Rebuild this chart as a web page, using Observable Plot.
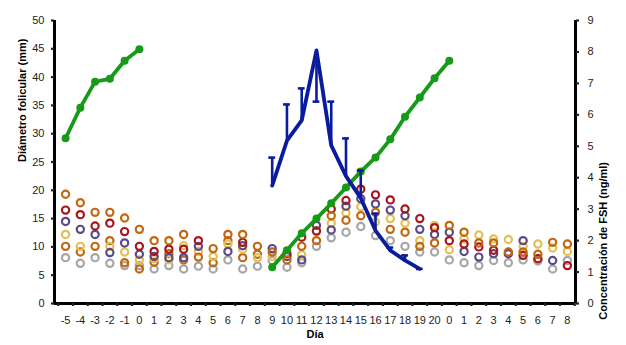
<!DOCTYPE html>
<html><head><meta charset="utf-8">
<script src="https://cdn.jsdelivr.net/npm/d3@7"></script>
<script src="https://cdn.jsdelivr.net/npm/@observablehq/plot@0.6"></script>
<style>
body{margin:0;background:#fff;}
svg{font-family:"Liberation Sans",Arial,sans-serif;}
</style>
</head><body><div id="chart"></div>
<script>
// Day categories (x axis)
const dayLabels = ["-5","-4","-3","-2","-1","0","1","2","3","4","5","6","7","8","9","10","11","12","13","14","15","16","17","18","19","20","0","1","2","3","4","5","6","7","8"];

// Follicle diameters (mm), individual follicles, one value per day (null = not visible)
const orangeA = [19.3,17.8,16.1,16.1,15.1,13.1, 11.1,11.1,12.2,8.2,9.7,12.2,12.2,10.1,9.1,7.7,10.1,11.1,15.5,14.7,15.5,16.1,13.1,12.6,10.1,10.7, 13.8,12.6,10.7,10.7,9.1,9.1,8.7,10.8,10.5];
const orangeB = [10.1,9.1,10.1,11.1,7.2,6.1, 7.3,8.8,7.7,null,7.2,11.1,8.1,8.7,null,null,null,null,null,null,null,null,null,null,null,null, null,null,null,null,null,null,null,null,null];
const red     = [16.5,15.7,13.7,14.2,12.7,10.1, 9.2,9.6,9.6,11.1,null,null,10.8,null,null,8.8,11.7,12.8,16.7,18.2,20.2,19.2,18.3,16.7,15.0,13.4, 11.1,10.5,10.0,9.4,null,8.5,7.9,null,6.7];
const purple  = [14.5,13.1,12.2,9.0,10.7,8.7, 8.3,8.1,8.1,10.1,null,9.2,10.2,null,9.7,8.3,7.7,13.8,13.0,17.2,18.5,17.6,16.5,15.5,13.1,12.2, 12.6,9.2,8.2,8.8,8.8,11.1,null,7.6,null];
const yellow  = [12.2,10.1,null,10.1,9.1,7.7, 7.9,7.7,10.2,9.2,8.3,10.5,9.6,8.1,8.3,null,8.6,12.8,14.2,16.0,17.1,14.4,15.0,14.2,11.1,13.8, 9.5,11.4,12.1,11.4,11.3,10.1,10.5,9.8,9.2];
const gray    = [8.1,7.1,8.1,7.1,6.7,6.7, 6.1,6.7,6.1,6.6,6.1,7.7,6.1,6.6,7.6,6.4,7.2,10.1,11.6,12.6,13.6,12.0,11.1,10.1,9.1,9.1, 7.7,7.2,6.7,7.6,7.2,7.7,7.5,6.1,7.6];

// Dominant follicle diameter (mm), positions are indices into dayLabels
const green1Pos = [0,1,2,3,4,5];
const green1Val = [29.2,34.6,39.2,39.7,42.9,44.9];
const green2Pos = [14,15,16,17,18,19,20,21,22,23,24,25,26];
const green2Val = [6.4,9.4,12.4,15.0,17.7,20.5,23.3,25.8,29.0,33.0,36.4,39.8,42.9];

// FSH (ng/ml): mean and error-bar end
const fshPos = [14,15,16,17,18,19,20,21,22,23,24];
const fshMean = [3.75,5.18,5.82,8.05,5.03,4.05,3.35,2.32,1.69,1.37,1.1];
const fshErr  = [4.64,6.33,6.84,6.42,6.42,5.25,4.23,2.86,1.78,1.53,1.1];

const leftTicks = [0,5,10,15,20,25,30,35,40,45,50];
const rightTicks = [0,1,2,3,4,5,6,7,8,9];
const leftMax = 50, rightMax = 9;
const k = leftMax / rightMax;

const series = [
  {vals: gray, color: "#a6a6a6"},
  {vals: orangeB, color: "#c4660f"},
  {vals: yellow, color: "#e2c056"},
  {vals: purple, color: "#5b4a8a"},
  {vals: red, color: "#a6161c"},
  {vals: orangeA, color: "#c4660f"}
];

const idx = dayLabels.map((d, i) => i);
const circleMarks = series.map(s => Plot.dot(
  s.vals.map((v, i) => ({i, v})).filter(d => d.v != null),
  {x: "i", y: "v", r: 3.6, stroke: s.color, strokeWidth: 2.2, fill: "none", ariaLabel: "follicle"}
));

const g1 = green1Pos.map((p, j) => ({i: p, v: green1Val[j]}));
const g2 = green2Pos.map((p, j) => ({i: p, v: green2Val[j]}));
const fsh = fshPos.map((p, j) => ({i: p, v: fshMean[j] * k, e: fshErr[j] * k}));
const GREEN = "#169a18", BLUE = "#0a1c9e";

const chart = Plot.plot({
  width: 626, height: 345,
  marginLeft: 54, marginRight: 51, marginTop: 20, marginBottom: 42,
  x: {type: "linear", domain: [-0.75, 34.55], axis: null},
  y: {domain: [0, 50], axis: null},
  style: {fontFamily: "Liberation Sans, Arial, sans-serif", fontSize: "11px", color: "#222", background: "#fff"},
  marks: [
    ...circleMarks,
    Plot.lineY(g1, {x: "i", y: "v", stroke: GREEN, strokeWidth: 3.8}),
    Plot.dot(g1, {x: "i", y: "v", r: 4, fill: GREEN}),
    Plot.lineY(g2, {x: "i", y: "v", stroke: GREEN, strokeWidth: 3.8}),
    Plot.dot(g2, {x: "i", y: "v", r: 4, fill: GREEN}),
    Plot.ruleX(fsh, {x: "i", y1: "v", y2: "e", stroke: BLUE, strokeWidth: 2.6}),
    Plot.ruleY(fsh, {y: "e", x1: d => d.i - 0.23, x2: d => d.i + 0.23, stroke: BLUE, strokeWidth: 2.6}),
    Plot.lineY(fsh, {x: "i", y: "v", stroke: BLUE, strokeWidth: 3.8}),
    // axes
    Plot.ruleY([0], {strokeWidth: 3, stroke: "#000"}),
    Plot.ruleX([-0.75], {y1: 0, y2: leftMax, strokeWidth: 3, stroke: "#000"}),
    Plot.ruleX([34.55], {y1: 0, y2: leftMax, strokeWidth: 3, stroke: "#000"}),
    Plot.axisY({anchor: "left", ticks: leftTicks, tickSize: 3, tickPadding: 7, strokeWidth: 2.2, label: null, fill: "#222"}),
    Plot.axisY({anchor: "right", ticks: rightTicks.map(t => t * k), tickFormat: v => String(Math.round(v / k)), tickSize: 3, tickPadding: 9, strokeWidth: 2.2, label: null, fill: "#222"}),
    Plot.axisX({ticks: idx, tickFormat: i => dayLabels[i], tickSize: 0, tickPadding: 13, label: null, fill: "#222"}),
    Plot.axisX({ticks: d3.range(-0.5, 34.6, 1), tickFormat: () => "", tickSize: 3, strokeWidth: 2.2, label: null}),
    Plot.text(["Diámetro folicular (mm)"], {frameAnchor: "left", rotate: -90, dx: -32, fontWeight: "bold", fontSize: 11, fill: "#000"}),
    Plot.text(["Concentración de FSH (ng/ml)"], {frameAnchor: "right", rotate: -90, dx: 28, fontWeight: "bold", fontSize: 11, fill: "#000"}),
    Plot.text(["Día"], {frameAnchor: "bottom", dy: 34, fontWeight: "bold", fontSize: 11, fill: "#000"})
  ]
});
chart.querySelectorAll('g[aria-label="follicle"]').forEach(g => g.style.filter = "drop-shadow(0.8px 1.2px 0.8px rgba(0,0,0,0.35))");
document.getElementById("chart").appendChild(chart);
</script>
</body></html>
